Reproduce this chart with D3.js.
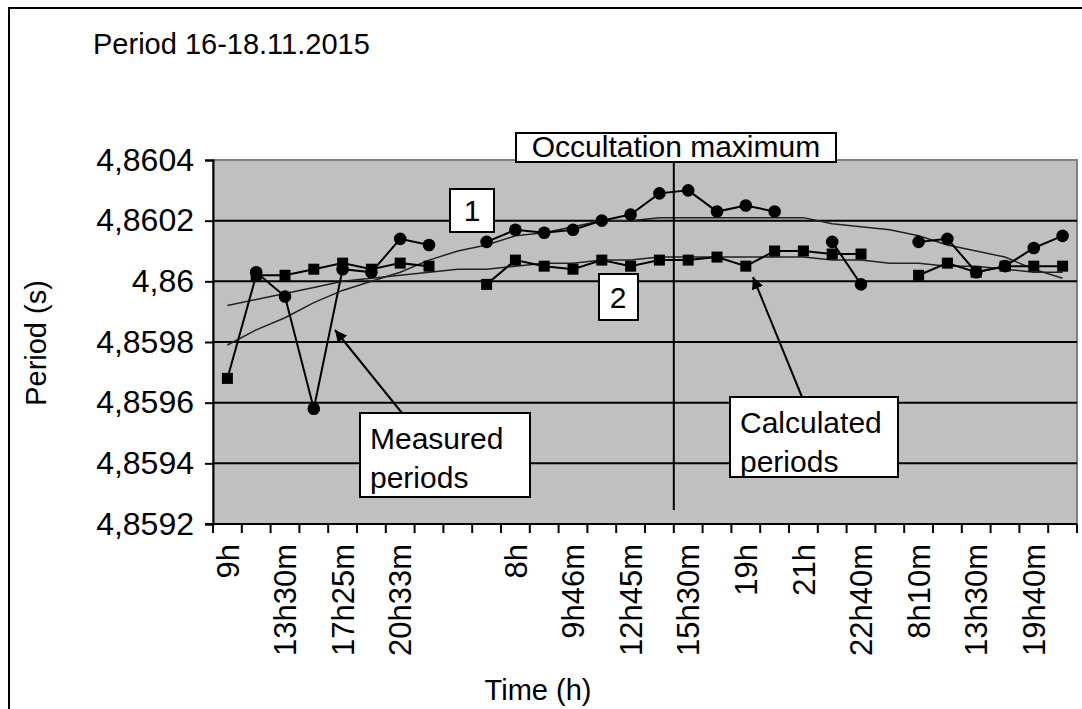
<!DOCTYPE html>
<html><head><meta charset="utf-8">
<script src="https://cdn.jsdelivr.net/npm/d3@7"></script>
<style>
html,body{margin:0;padding:0;background:#fff;}
svg{display:block;font-family:"Liberation Sans",Arial,sans-serif;}
</style></head>
<body><svg id="chart" width="1082" height="709"></svg>
<script>
// ---------- data ----------
const timeLabels = ["9h","","13h30m","","17h25m","","20h33m","","","",
  "8h","","9h46m","","12h45m","","15h30m","","19h","",
  "21h","","22h40m","","8h10m","","13h30m","","19h40m",""];
const categories = timeLabels.map((d, i) => i);
const measured1 = [null,4.86003,4.85995,4.85958,4.86004,4.86003,4.86014,4.86012,null,4.86013,
  4.86017,4.86016,4.86017,4.8602,4.86022,4.86029,4.8603,4.86023,4.86025,4.86023,
  null,4.86013,4.85999,null,4.86013,4.86014,4.86003,4.86005,4.86011,4.86015];
const measured2 = [4.85968,4.86002,4.86002,4.86004,4.86006,4.86004,4.86006,4.86005,null,4.85999,
  4.86007,4.86005,4.86004,4.86007,4.86005,4.86007,4.86007,4.86008,4.86005,4.8601,
  4.8601,4.86009,4.86009,null,4.86002,4.86006,4.86003,4.86005,4.86005,4.86005];
const calculated1 = [4.85979,4.85984,4.85988,4.85993,4.85997,4.86,4.86003,4.86007,4.8601,4.86012,
  4.86015,4.86016,4.86018,4.8602,4.8602,4.86021,4.86021,4.86021,4.86021,4.86021,
  4.86021,4.86019,4.86018,4.86017,4.86015,4.86012,4.8601,4.86008,4.86004,4.86001];
const calculated2 = [4.85992,4.85994,4.85996,4.85998,4.86,4.86001,4.86002,4.86003,4.86004,4.86004,
  4.86005,4.86006,4.86006,4.86007,4.86007,4.86008,4.86008,4.86008,4.86008,4.86008,
  4.86008,4.86007,4.86007,4.86006,4.86006,4.86005,4.86005,4.86004,4.86003,4.86003];
const yTicks = [4.8592,4.8594,4.8596,4.8598,4.86,4.8602,4.8604];
const yTickLabels = ["4,8592","4,8594","4,8596","4,8598","4,86","4,8602","4,8604"];
const occultationIndex = 16;

// ---------- layout ----------
const svg = d3.select("#chart");
const L = 213, R = 1077, T = 160, B = 524;
const TICKFONT = 32, XTICKFONT = 31, FONT = 29;

svg.append("rect").attr("x",9).attr("y",8).attr("width",1100).attr("height",720)
  .attr("fill","#fff").attr("stroke","#000").attr("stroke-width",2);

const x = d3.scaleBand().domain(categories).range([L, R]).padding(0);
const cx = i => x(i) + x.bandwidth() / 2;
const y = d3.scaleLinear().domain([4.8592, 4.8604]).range([B, T]);

// plot background
svg.append("rect").attr("x",L).attr("y",T).attr("width",R-L).attr("height",B-T)
  .attr("fill","#c0c0c0").attr("stroke","#808080").attr("stroke-width",2);

// gridlines
svg.append("g").selectAll("line").data(yTicks.filter(v => v > 4.8592 && v < 4.8604)).join("line")
  .attr("x1",L).attr("x2",R).attr("y1",d=>y(d)).attr("y2",d=>y(d))
  .attr("stroke","#000").attr("stroke-width",2);

// y axis
const yAxis = d3.axisLeft(y).tickValues(yTicks).tickSize(8)
  .tickFormat((d,i) => yTickLabels[i]);
const gy = svg.append("g").attr("transform",`translate(${L},0)`).call(yAxis);
gy.select(".domain").attr("stroke","#000").attr("stroke-width",2);
gy.selectAll(".tick line").attr("stroke","#000").attr("stroke-width",2);
gy.selectAll(".tick text").attr("font-size",TICKFONT).attr("fill","#000").attr("x",-19)
  .attr("font-family","'Liberation Sans',Arial,sans-serif");

// x axis (ticks at category boundaries)
svg.append("line").attr("x1",L-8).attr("x2",R).attr("y1",B).attr("y2",B)
  .attr("stroke","#000").attr("stroke-width",2);
const bounds = categories.map(i => x(i)).concat([x(categories[categories.length-1]) + x.bandwidth()]);
svg.append("g").selectAll("line").data(bounds).join("line")
  .attr("x1",d=>d).attr("x2",d=>d).attr("y1",B).attr("y2",B+9)
  .attr("stroke","#000").attr("stroke-width",2);
svg.append("g").selectAll("text").data(categories.filter(i => timeLabels[i] !== "")).join("text")
  .attr("transform", i => `translate(${cx(i)},${B+20}) rotate(-90)`)
  .attr("text-anchor","end").attr("dy","0.36em")
  .attr("font-size",XTICKFONT).text(i => timeLabels[i]);

// axis titles
svg.append("text").attr("transform","translate(46,343) rotate(-90)")
  .attr("text-anchor","middle").attr("font-size",FONT).text("Period (s)");
svg.append("text").attr("x",538).attr("y",700).attr("text-anchor","middle")
  .attr("font-size",FONT).text("Time (h)");
svg.append("text").attr("x",93).attr("y",54).attr("font-size",FONT).text("Period 16-18.11.2015");

// calculated curves
const lineGen = arr => d3.line().defined(d => arr[d] !== null).x(d => cx(d)).y(d => y(arr[d]))(categories);
[calculated1, calculated2].forEach(arr => {
  svg.append("path").attr("d", lineGen(arr)).attr("fill","none")
    .attr("stroke","#222").attr("stroke-width",1.5);
});

// measured series
[measured2, measured1].forEach(arr => {
  svg.append("path").attr("d", lineGen(arr)).attr("fill","none")
    .attr("stroke","#000").attr("stroke-width",2);
});
svg.append("g").selectAll("rect").data(categories.filter(i => measured2[i] !== null)).join("rect")
  .attr("x", i => cx(i) - 5.5).attr("y", i => y(measured2[i]) - 5.5)
  .attr("width",11).attr("height",11).attr("fill","#000");
svg.append("g").selectAll("circle").data(categories.filter(i => measured1[i] !== null)).join("circle")
  .attr("cx", i => cx(i)).attr("cy", i => y(measured1[i])).attr("r",6.3).attr("fill","#000");

// occultation maximum line
const ox = x(occultationIndex);
svg.append("line").attr("x1",ox).attr("x2",ox).attr("y1",162).attr("y2",510)
  .attr("stroke","#000").attr("stroke-width",2);

// arrow marker
svg.append("defs").append("marker").attr("id","arr").attr("viewBox","0 0 10 10")
  .attr("refX",10).attr("refY",5).attr("markerWidth",6).attr("markerHeight",6)
  .attr("orient","auto").attr("markerUnits","strokeWidth")
  .append("path").attr("d","M0,0 L10,5 L0,10 z").attr("fill","#000");

// arrows
svg.append("line").attr("x1",402).attr("y1",413).attr("x2",335).attr("y2",330)
  .attr("stroke","#000").attr("stroke-width",2).attr("marker-end","url(#arr)");
svg.append("line").attr("x1",802).attr("y1",397).attr("x2",753).attr("y2",277)
  .attr("stroke","#000").attr("stroke-width",2).attr("marker-end","url(#arr)");

// text boxes
function box(bx, by, w, h, lines, tx, baselines, anchor) {
  svg.append("rect").attr("x",bx).attr("y",by).attr("width",w).attr("height",h)
    .attr("fill","#fff").attr("stroke","#000").attr("stroke-width",2);
  lines.forEach((t, k) => {
    svg.append("text").attr("x",tx).attr("y",baselines[k]).attr("font-size",30)
      .attr("text-anchor",anchor).text(t);
  });
}
box(516,133,320,29,["Occultation maximum"],676,[157],"middle");
box(450,189,44,43,["1"],472,[221],"middle");
box(599,274,39,46,["2"],618,[308],"middle");
box(360,413,170,84,["Measured","periods"],370,[449,488],"start");
box(730,397,168,80,["Calculated","periods"],740,[433,472],"start");
</script></body></html>
